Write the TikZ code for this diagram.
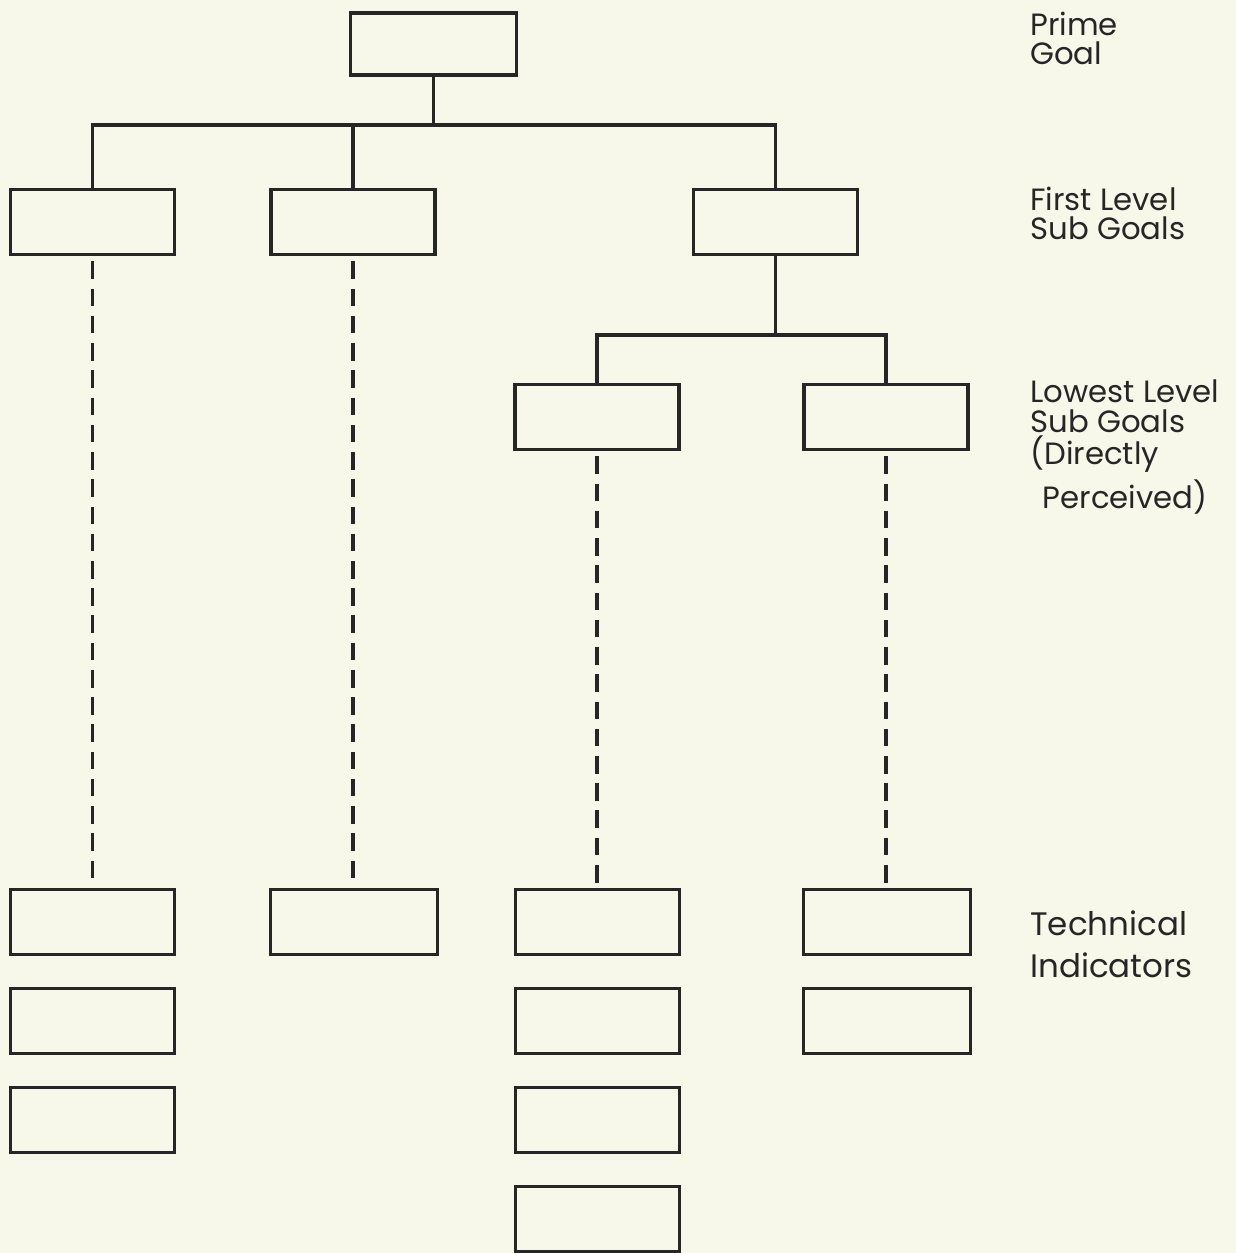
\documentclass[tikz,border=0pt]{standalone}
\usepackage{fontspec}
\setmainfont{Poppins}
\definecolor{paper}{HTML}{F8F8EA}
\definecolor{pencil}{HTML}{262626}

\begin{document}
\begin{tikzpicture}[x=0.02cm,y=-0.02cm,
  goalbox/.style={draw=pencil,line width=1.9pt,minimum width=3.28cm,minimum height=1.30cm,inner sep=0pt},
  link/.style={draw=pencil,line width=1.9pt},
  dashlink/.style={link,dash pattern=on 10pt off 5.5pt,dash phase=-3pt},
  tag/.style={anchor=base west,align=left,inner sep=0pt,text=pencil,font=\fontsize{17.5}{17}\selectfont}]
\fill[paper] (0,0) rectangle (1236,1253);
\useasboundingbox (0,0) rectangle (1236,1253);

% goal hierarchy
\node[goalbox,minimum width=3.32cm,minimum height=1.24cm] (prime) at (433.5,44) {};
\node[goalbox] (subA) at (92.5,222) {};
\node[goalbox] (subB) at (353,222) {};
\node[goalbox] (subC) at (775.5,222) {};
\node[goalbox] (lowD) at (597,417) {};
\node[goalbox] (lowE) at (886,417) {};
\coordinate (barA) at (0,125);
\coordinate (barC) at (0,335);

% technical indicators
\node[goalbox] (indA1) at (92.5,922) {};
\node[goalbox] (indA2) at (92.5,1021) {};
\node[goalbox] (indA3) at (92.5,1120) {};
\node[goalbox,minimum width=3.34cm] (indB1) at (354,922) {};
\node[goalbox] (indD1) at (597.5,922) {};
\node[goalbox] (indD2) at (597.5,1021) {};
\node[goalbox] (indD3) at (597.5,1120) {};
\node[goalbox] (indD4) at (597.5,1219) {};
\node[goalbox,minimum width=3.34cm] (indE1) at (887,922) {};
\node[goalbox,minimum width=3.34cm] (indE2) at (887,1021) {};

% solid links
\draw[link] (prime.south) -- (prime.south |- barA);
\draw[link] (subA.north) |- (subC.north |- barA) -- (subC.north);
\draw[link] (subB.north) -- (subB.north |- barA);
\draw[link] (subC.south) -- (subC.south |- barC);
\draw[link] (lowD.north) |- (lowE.north |- barC) -- (lowE.north);

% dashed links
\draw[dashlink] (subA.south) -- (subA.south |- indA1.north);
\draw[dashlink] (subB.south) -- (subB.south |- indB1.north);
\draw[dashlink] (lowD.south) -- (lowD.south |- indD1.north);
\draw[dashlink] (lowE.south) -- (lowE.south |- indE1.north);

% level names
\node[tag] (tagPrime) at (1030,65) {Prime\\Goal};
\node[tag] (tagFirst) at (1030,240) {First Level\\Sub Goals};
\node[tag] (tagLow) at (1030,432) {Lowest Level\\Sub Goals};
\node[tag,font=\fontsize{17.5}{24.5}\selectfont] (tagDirect) at (1030,508) {(Directly\\\hspace{0.4em}Perceived)};
\node[tag,font=\fontsize{18.5}{23.8}\selectfont] (tagTech) at (1030,977) {Technical\\Indicators};
\end{tikzpicture}
\end{document}
